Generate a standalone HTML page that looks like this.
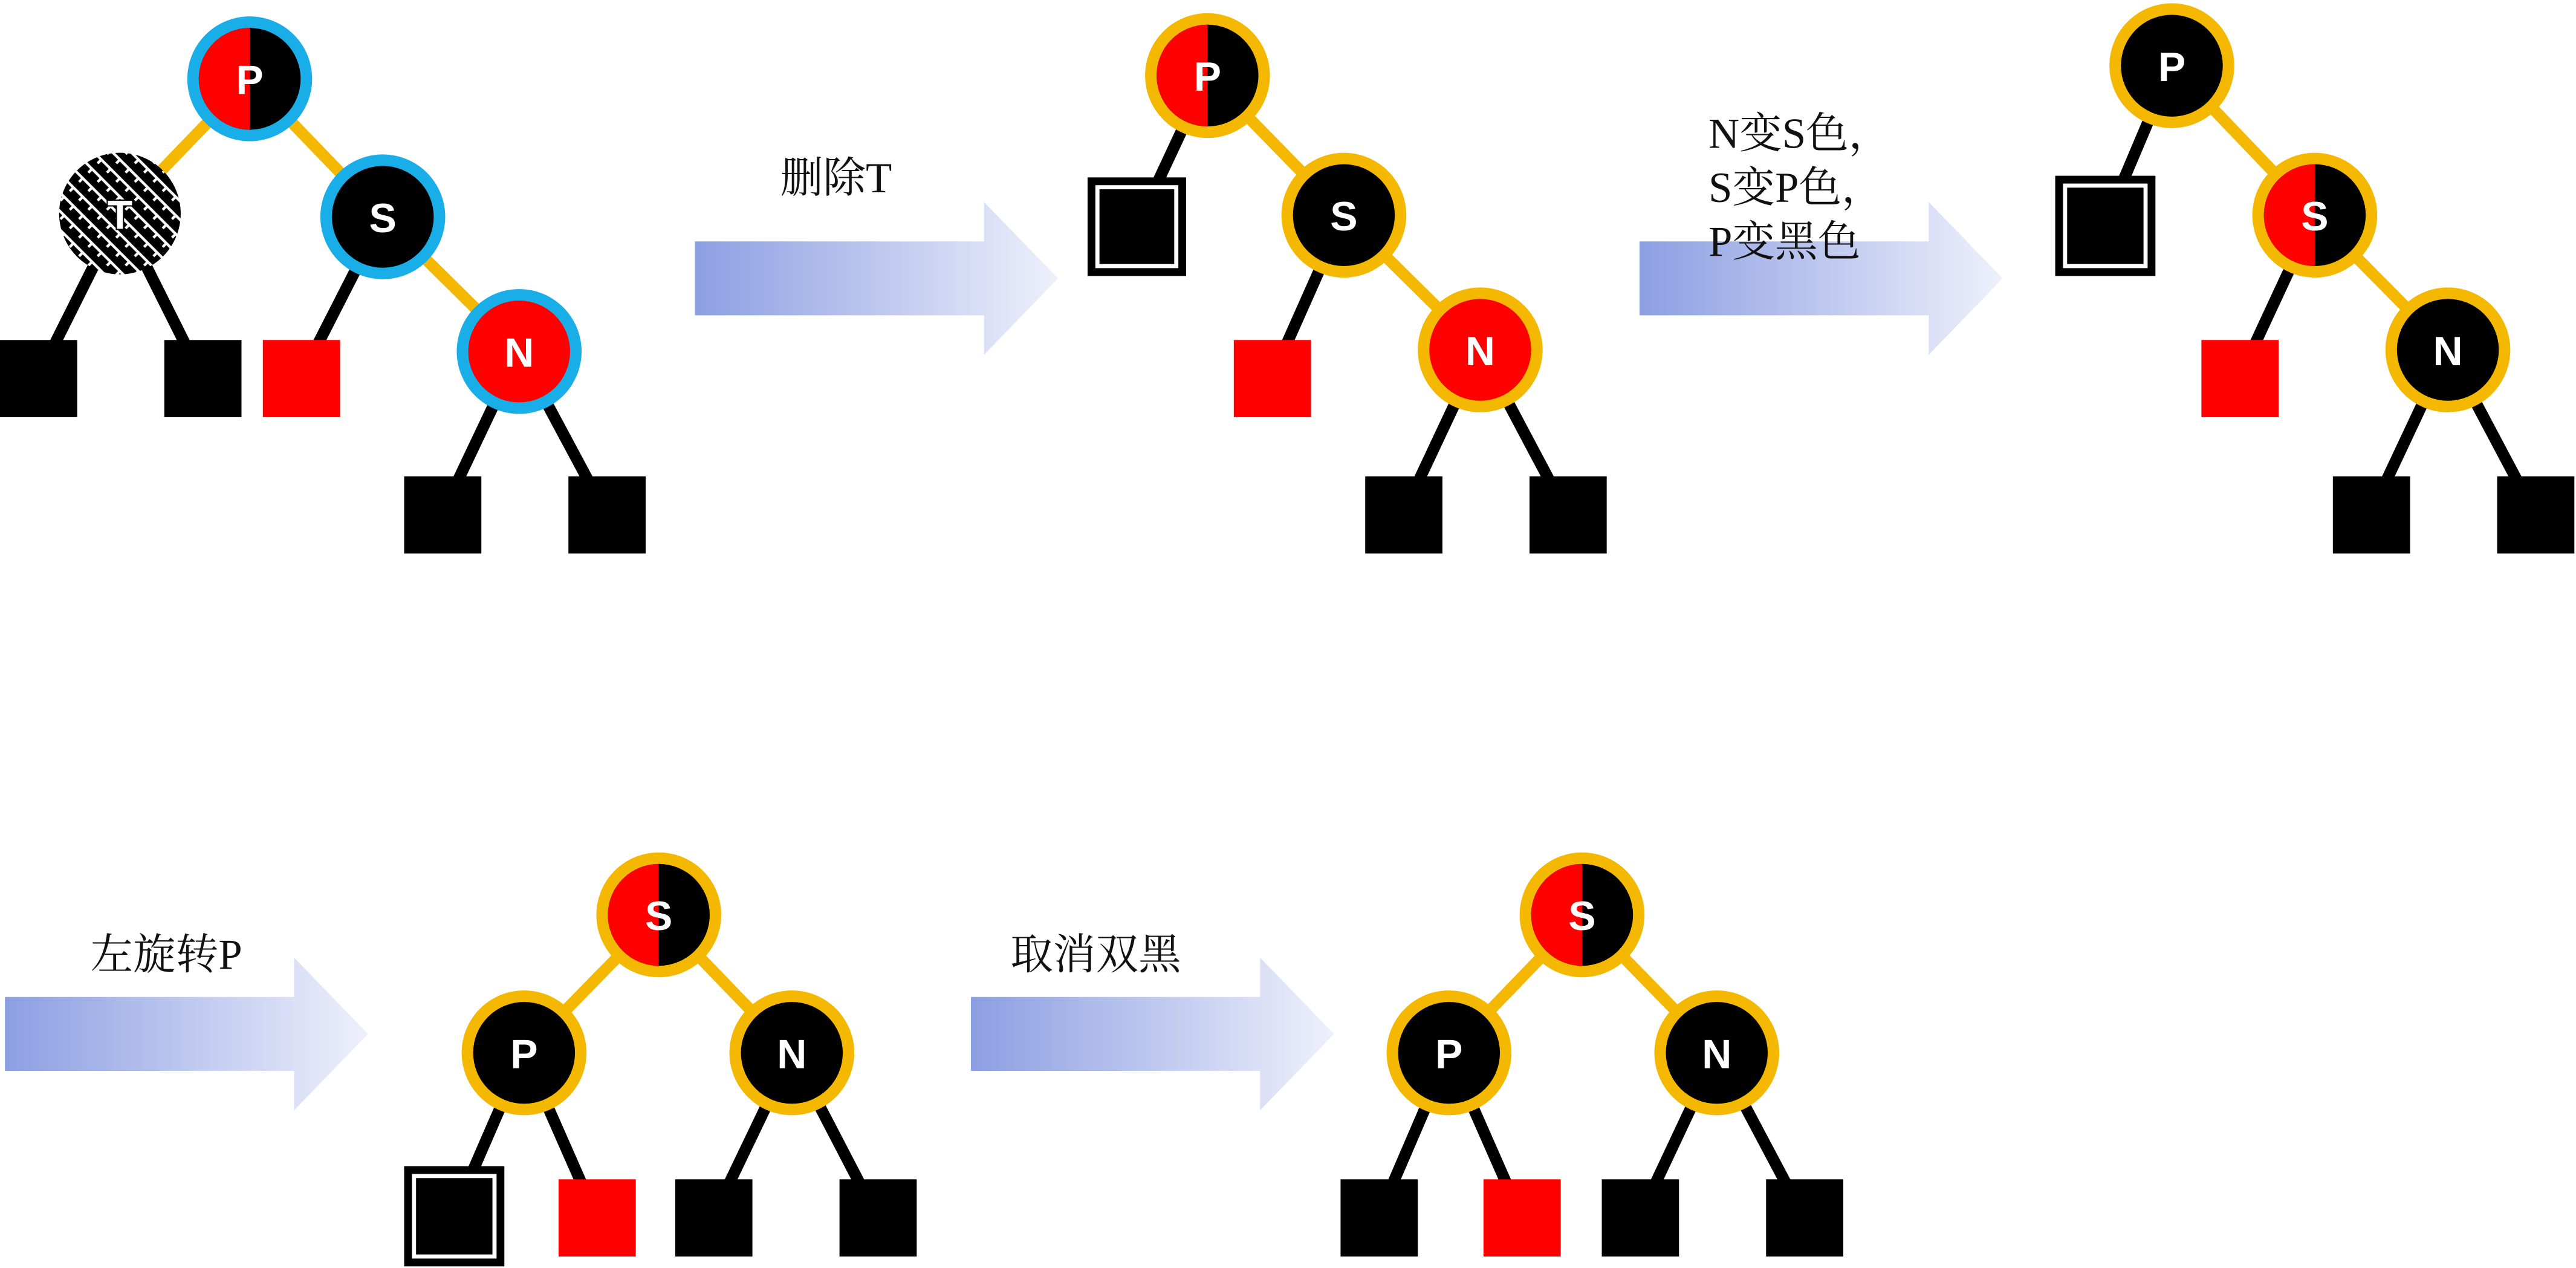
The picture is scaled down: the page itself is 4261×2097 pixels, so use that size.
<!DOCTYPE html>
<html><head><meta charset="utf-8"><style>
html,body{margin:0;padding:0;background:#fff}
svg{display:block}
.lbl{font-family:"Liberation Serif","Noto Serif CJK SC",serif;font-size:26px;fill:#111}
.nt{font-family:"Liberation Sans",sans-serif;font-weight:900;font-size:25px;fill:#fff;text-anchor:middle;dominant-baseline:central}
</style></head><body>
<svg id="s" width="4261" height="2097" viewBox="0 0 1568 772" preserveAspectRatio="none" xmlns="http://www.w3.org/2000/svg">
<defs>
<linearGradient id="ag" x1="0" x2="1" y1="0" y2="0"><stop offset="0" stop-color="#8c9fe2"/><stop offset="1" stop-color="#eef0fb"/></linearGradient>
<pattern id="hatch" width="8" height="8" patternUnits="userSpaceOnUse" patternTransform="rotate(45)">
<rect width="8" height="8" fill="#000"/><rect x="0" y="0" width="8" height="1.6" fill="#fff"/><rect x="0" y="0" width="1.6" height="4" fill="#fff"/></pattern>
<clipPath id="lh"><rect x="-50" y="-50" width="50" height="100"/></clipPath>
</defs>
<g id="root"></g>
</svg>
<script>
const NS="http://www.w3.org/2000/svg";
const root=document.getElementById('root');
function mk(tag,attrs,parent){const e=document.createElementNS(NS,tag);for(const k in attrs)e.setAttribute(k,attrs[k]);(parent||root).appendChild(e);return e;}
const edges=[
[152,48,73,130,'#f5b800'],[152,48,233,132,'#f5b800'],[233,132,316,214,'#f5b800'],
[73,130,23,230,'#000'],[73,130,123,230,'#000'],[233,132,183,230,'#000'],[316,214,269,313,'#000'],[316,214,369,313,'#000'],
[735,46,692,138,'#000'],[735,46,818,131,'#f5b800'],[818,131,901,213,'#f5b800'],[818,131,774,230,'#000'],[901,213,854,313,'#000'],[901,213,954,313,'#000'],
[1322,40,1281,137,'#000'],[1322,40,1409,131,'#f5b800'],[1409,131,1490,213,'#f5b800'],[1409,131,1363,230,'#000'],[1490,213,1443,313,'#000'],[1490,213,1543,313,'#000'],
[401,557,319,641,'#f5b800'],[401,557,482,641,'#f5b800'],[319,641,276,740,'#000'],[319,641,363,741,'#000'],[482,641,434,741,'#000'],[482,641,534,741,'#000'],
[963,557,882,641,'#f5b800'],[963,557,1045,641,'#f5b800'],[882,641,839,741,'#000'],[882,641,926,741,'#000'],[1045,641,998,741,'#000'],[1045,641,1098,741,'#000']
];
edges.forEach(e=>{const l=mk('line',{x1:e[0],y1:e[1],x2:e[2],y2:e[3],stroke:e[4],'stroke-width':7});

});
const leaves=[[0,207,47,'b'],[100,207,47,'b'],[160,207,47,'r'],[246,290,47,'b'],[346,290,47,'b'],
[662,108,60,'d'],[751,207,47,'r'],[831,290,47,'b'],[931,290,47,'b'],
[1251,107,61,'d'],[1340,207,47,'r'],[1420,290,47,'b'],[1520,290,47,'b'],
[246,710,61,'d'],[340,718,47,'r'],[411,718,47,'b'],[511,718,47,'b'],
[816,718,47,'b'],[903,718,47,'r'],[975,718,47,'b'],[1075,718,47,'b']];
leaves.forEach(l=>{const g=mk('g',{});


if(l[3]=='d'){mk('rect',{x:l[0],y:l[1],width:l[2],height:l[2],fill:'#000'},g);
mk('rect',{x:l[0]+6,y:l[1]+6,width:l[2]-12,height:l[2]-12,fill:'none',stroke:'#fff','stroke-width':2.5},g);}
else mk('rect',{x:l[0],y:l[1],width:l[2],height:l[2],fill:l[3]=='r'?'#f00':'#000'},g);});
const nodes=[[152,48,'P','h','#1aaee8'],[73,130,'T','x',null],[233,132,'S','b','#1aaee8'],[316,214,'N','r','#1aaee8'],
[735,46,'P','h','#f5b800'],[818,131,'S','b','#f5b800'],[901,213,'N','r','#f5b800'],
[1322,40,'P','b','#f5b800'],[1409,131,'S','h','#f5b800'],[1490,213,'N','b','#f5b800'],
[401,557,'S','h','#f5b800'],[319,641,'P','b','#f5b800'],[482,641,'N','b','#f5b800'],
[963,557,'S','h','#f5b800'],[882,641,'P','b','#f5b800'],[1045,641,'N','b','#f5b800']];
nodes.forEach(n=>{const g=mk('g',{transform:`translate(${n[0]},${n[1]})`});


if(n[4])mk('circle',{r:38,fill:n[4]},g);
if(n[3]=='x'){mk('circle',{r:37,fill:'url(#hatch)'},g);}
else if(n[3]=='h'){mk('circle',{r:31,fill:'#000'},g);mk('circle',{r:31,fill:'#f00','clip-path':'url(#lh)'},g);}
else mk('circle',{r:31,fill:n[3]=='r'?'#f00':'#000'},g);
const t=mk('text',{class:'nt',x:0,y:1},g);t.textContent=n[2];
if(n[3]=='x'){t.setAttribute('stroke','#000');t.setAttribute('stroke-width','1.5');t.setAttribute('paint-order','stroke');}});
const arrows=[[423,147,['删除T'],475,117],[998,147,['N变S色，','S变P色，','P变黑色'],1040,90],[3,607,['左旋转P'],55,590],[591,607,['取消双黑'],615,590]];
arrows.forEach(a=>{const g=mk('g',{});


const x=a[0],y=a[1];
mk('path',{d:`M${x} ${y}H${x+176}V${y-24}L${x+221} ${y+22.5}L${x+176} ${y+69}V${y+45}H${x}Z`,fill:'url(#ag)'},g);
a[2].forEach((s,i)=>{const t=mk('text',{class:'lbl',x:a[3],y:a[4]+i*33},g);t.textContent=s;

});});
</script>
</body></html>
